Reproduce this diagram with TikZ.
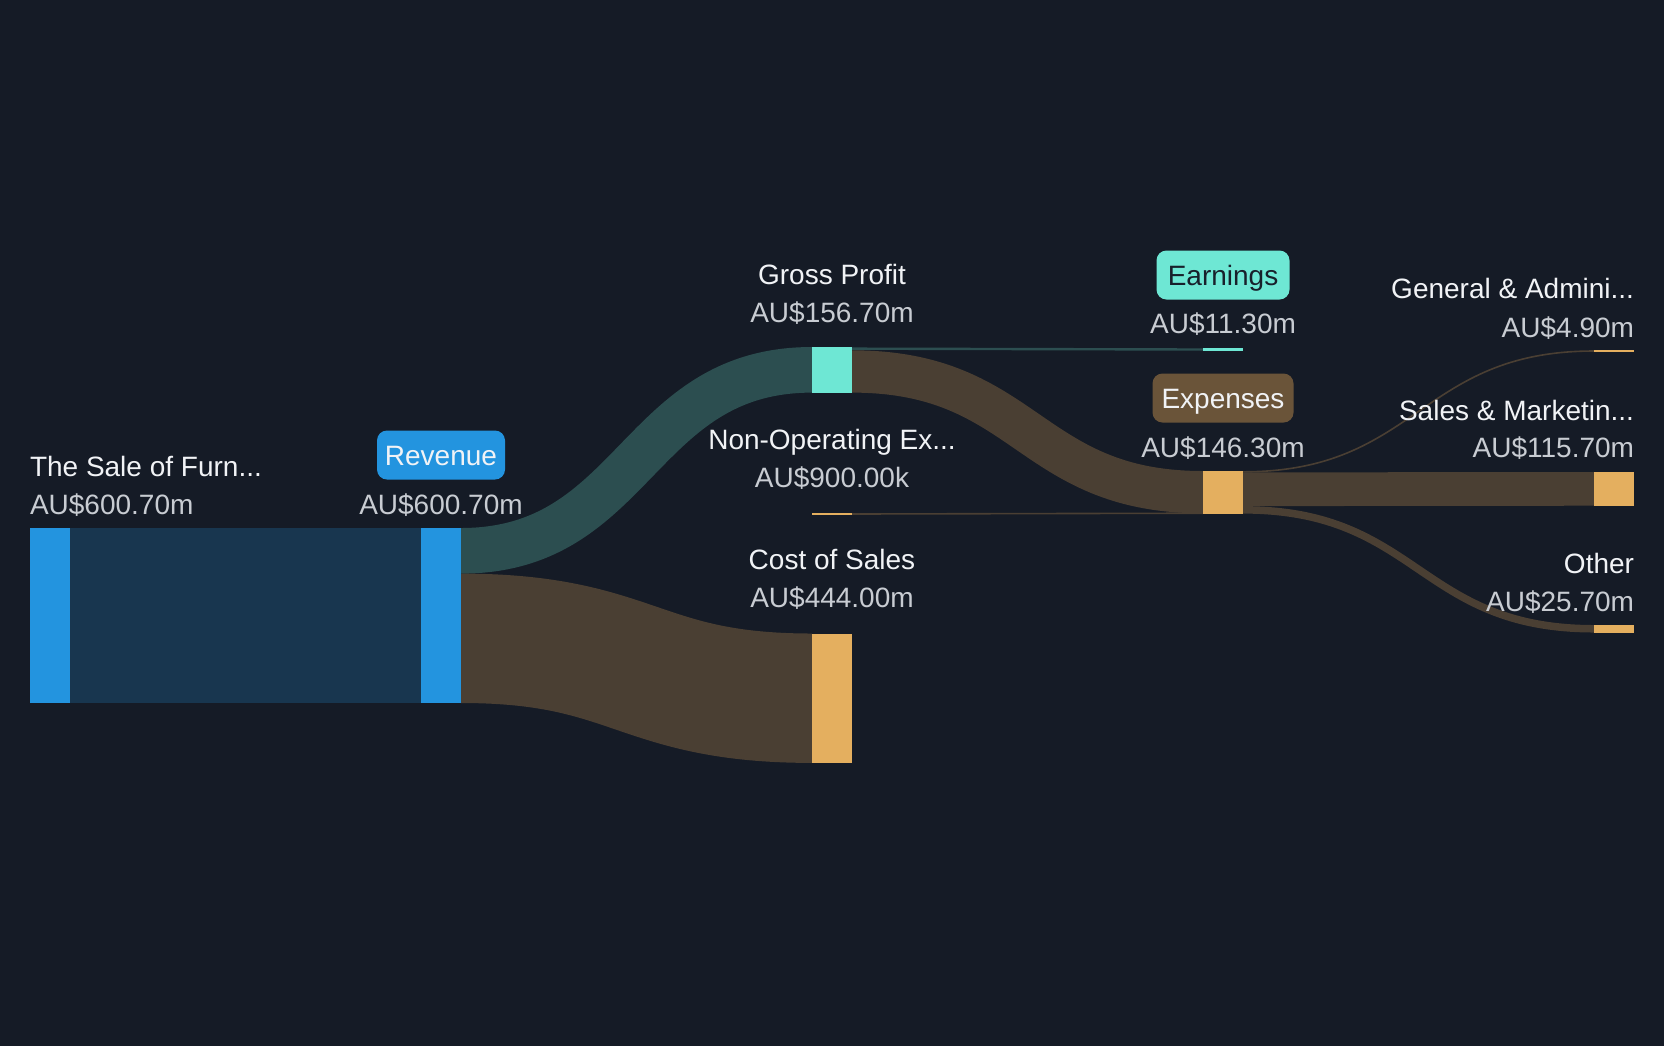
\documentclass[tikz,border=0pt]{standalone}
\usepackage{fontspec}
\setmainfont{Liberation Sans}
\usetikzlibrary{calc}
\definecolor{bgc}{HTML}{151B26}
\definecolor{barblue}{HTML}{2394DF}
\definecolor{flowblue}{HTML}{18364F}
\definecolor{barteal}{HTML}{6EE7D4}
\definecolor{flowteal}{HTML}{2C4E50}
\definecolor{barorange}{HTML}{E4AF5F}
\definecolor{flowbrown}{HTML}{4A3F33}
\definecolor{pillbrown}{HTML}{6A5439}
\definecolor{labelc}{HTML}{F1F3F6}
\definecolor{valuec}{HTML}{C8CCD2}
\definecolor{darktext}{HTML}{18202B}
\pgfdeclarelayer{bgl}
\pgfdeclarelayer{flowl}
\pgfsetlayers{bgl,flowl,main}
% #1 source node, #2 offset of band middle below its top (px), #3 target node,
% #4 offset of band middle below its top (px), #5 band width (pt), #6 colour
\newcommand\flowline[6]{%
  \path ($(#1.north east)+(0,#2)$) coordinate (fa)
        ($(#3.north west)+(0,#4)$) coordinate (fc)
        ($(fa)!0.5!(fc)$) coordinate (fm);
  \begin{pgfonlayer}{flowl}
  \draw[draw=#6, line width=#5, line cap=butt] (fa) .. controls (fa -| fm) and (fc -| fm) .. (fc);
  \end{pgfonlayer}}
\tikzset{
  bar/.style={rectangle, inner sep=0pt, outer sep=0pt, minimum width=20pt, anchor=north west},
  txt/.style={font=\fontsize{14pt}{16pt}\selectfont, inner sep=0pt, outer sep=0pt},
  lbl/.style={txt, text=labelc},
  val/.style={txt, text=valuec},
  pill/.style={txt, rounded corners=5pt, minimum height=24.5pt, text height=10pt, text depth=0pt, inner xsep=0pt, anchor=center},
}
\begin{document}
\begin{tikzpicture}[x=0.5pt, y=-0.5pt]
\begin{pgfonlayer}{bgl}
\fill[bgc] (0,0) rectangle (1664,1046);
\end{pgfonlayer}
\useasboundingbox (0,0) rectangle (1664,1046);
% bars
\node[bar, fill=barblue, minimum height=87.5pt] (sale) at (30,528) {};
\node[bar, fill=barblue, minimum height=87.5pt] (rev) at (421,528) {};
\node[bar, fill=barteal, minimum height=22.8pt] (gp) at (812,347) {};
\node[bar, fill=barorange, minimum height=1pt] (nonop) at (812,513) {};
\node[bar, fill=barorange, minimum height=64.7pt] (cos) at (812,633.5) {};
\node[bar, fill=barteal, minimum height=1.5pt] (earn) at (1203,348) {};
\node[bar, fill=barorange, minimum height=21.3pt] (exp) at (1203,471) {};
\node[bar, fill=barorange, minimum height=1pt] (ga) at (1594,350) {};
\node[bar, fill=barorange, minimum height=16.85pt] (sm) at (1594,472) {};
\node[bar, fill=barorange, minimum height=3.75pt] (other) at (1594,625) {};
% flows
\flowline{sale}{87.5}{rev}{87.5}{87.5pt}{flowblue}
\flowline{rev}{22.8}{gp}{22.8}{22.8pt}{flowteal}
\flowline{rev}{110.3}{cos}{64.7}{64.7pt}{flowbrown}
\flowline{gp}{1.65}{earn}{1.5}{1.2pt}{flowteal}
\flowline{gp}{24.45}{exp}{21.15}{21.15pt}{flowbrown}
\flowline{nonop}{1}{exp}{42.2}{0.8pt}{flowbrown}
\flowline{exp}{0.8}{ga}{1}{0.8pt}{flowbrown}
\flowline{exp}{18.25}{sm}{16.85}{16.85pt}{flowbrown}
\flowline{exp}{38.85}{other}{3.75}{3.75pt}{flowbrown}
% labels
\node[lbl, anchor=base west] (saleL) at (30,476) {The Sale of Furn...};
\node[val, anchor=base west] (saleV) at (30,514) {AU\$600.70m};
\node[pill, fill=barblue, text=labelc, minimum width=64pt] (revL) at (441,455) {Revenue};
\node[val, anchor=base] (revV) at (441,514) {AU\$600.70m};
\node[lbl, anchor=base] (gpL) at (832,284) {Gross Profit};
\node[val, anchor=base] (gpV) at (832,322) {AU\$156.70m};
\node[lbl, anchor=base] (nonopL) at (832,449) {Non-Operating Ex...};
\node[val, anchor=base] (nonopV) at (832,487) {AU\$900.00k};
\node[lbl, anchor=base] (cosL) at (832,569) {Cost of Sales};
\node[val, anchor=base] (cosV) at (832,607) {AU\$444.00m};
\node[pill, fill=barteal, text=darktext, minimum width=66.5pt] (earnL) at (1223,275) {Earnings};
\node[val, anchor=base] (earnV) at (1223,333.5) {AU\$11.30m};
\node[pill, fill=pillbrown, text=labelc, minimum width=70.5pt] (expL) at (1223,398) {Expenses};
\node[val, anchor=base] (expV) at (1223,457) {AU\$146.30m};
\node[lbl, anchor=base east] (gaL) at (1634,298.5) {General \& Admini...};
\node[val, anchor=base east] (gaV) at (1634,337) {AU\$4.90m};
\node[lbl, anchor=base east] (smL) at (1634,420) {Sales \& Marketin...};
\node[val, anchor=base east] (smV) at (1634,457.7) {AU\$115.70m};
\node[lbl, anchor=base east] (otherL) at (1634,573) {Other};
\node[val, anchor=base east] (otherV) at (1634,611) {AU\$25.70m};
\end{tikzpicture}
\end{document}
